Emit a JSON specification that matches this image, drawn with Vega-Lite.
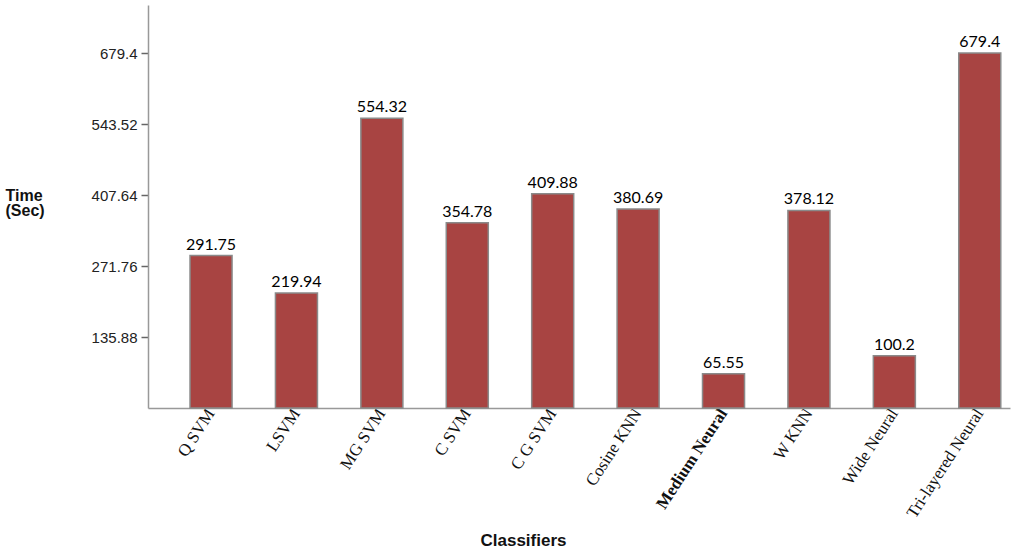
{
  "$schema": "https://vega.github.io/schema/vega-lite/v6.json",
  "autosize": "none",
  "width": 862,
  "height": 403,
  "padding": {"left": 148, "top": 5, "right": 11, "bottom": 143},
  "background": "white",
  "config": {"view": {"stroke": null}, "axisY": {"ticks": true, "tickSize": 7, "tickColor": "#666", "tickWidth": 1.5}},
  "data": {
    "values": [
      {"classifier": "Q SVM", "time": 291.75, "label": "291.75"},
      {"classifier": "LSVM", "time": 219.94, "label": "219.94"},
      {"classifier": "MG SVM", "time": 554.32, "label": "554.32"},
      {"classifier": "C SVM", "time": 354.78, "label": "354.78"},
      {"classifier": "C G SVM", "time": 409.88, "label": "409.88"},
      {"classifier": "Cosine KNN", "time": 380.69, "label": "380.69"},
      {"classifier": "Medium Neural", "time": 65.55, "label": "65.55"},
      {"classifier": "W KNN", "time": 378.12, "label": "378.12"},
      {"classifier": "Wide Neural", "time": 100.2, "label": "100.2"},
      {"classifier": "Tri-layered Neural", "time": 679.4, "label": "679.4"}
    ]
  },
  "encoding": {
    "x": {
      "field": "classifier",
      "type": "nominal",
      "sort": null,
      "scale": {"paddingInner": 0.508, "paddingOuter": 0.3, "align": 0.82},
      "axis": {
        "title": "Classifiers",
        "titleFont": "Liberation Sans",
        "titleFontSize": 17,
        "titleFontWeight": "bold",
        "titleColor": "#111",
        "titleX": 375,
        "titleY": 132,
        "titleAnchor": null,
        "titleAlign": "center",
        "titleBaseline": "middle",
        "labelFont": "Liberation Serif",
        "labelFontSize": 17,
        "labelColor": "#111",
        "labelAngle": -57,
        "labelAlign": "right",
        "labelBaseline": "middle",
        "labelPadding": 2,
        "labelFontWeight": {"expr": "datum.value == 'Medium Neural' ? 'bold' : 'normal'"},
        "ticks": false,
        "domainColor": "#999",
        "domainWidth": 1.5,
        "grid": false
      }
    },
    "y": {
      "field": "time",
      "type": "quantitative",
      "scale": {"domain": [0, 771.3], "nice": false, "zero": true},
      "axis": {
        "values": [135.88, 271.76, 407.64, 543.52, 679.4],
        "labelExpr": "datum.value",
        "labelFont": "Liberation Sans",
        "labelFontSize": 15,
        "labelColor": "#222",
        "labelPadding": 4,
        "domainColor": "#999",
        "domainWidth": 1.5,
        "grid": false,
        "title": ["Time", "(Sec)"],
        "titleFont": "Liberation Sans",
        "titleFontSize": 16,
        "titleFontWeight": "bold",
        "titleColor": "#111",
        "titleAngle": 0,
        "titleAlign": "left",
        "titleBaseline": "middle",
        "titleX": -143,
        "titleY": 190,
        "titleLineHeight": 15
      }
    }
  },
  "layer": [
    {
      "mark": {"type": "bar", "color": "#A84442", "stroke": "#8a8a8a", "strokeWidth": 1.5}
    },
    {
      "mark": {"type": "text", "dy": -3, "font": "Lato", "fontSize": 16, "color": "#000", "baseline": "bottom"},
      "encoding": {"text": {"field": "label"}}
    }
  ]
}
